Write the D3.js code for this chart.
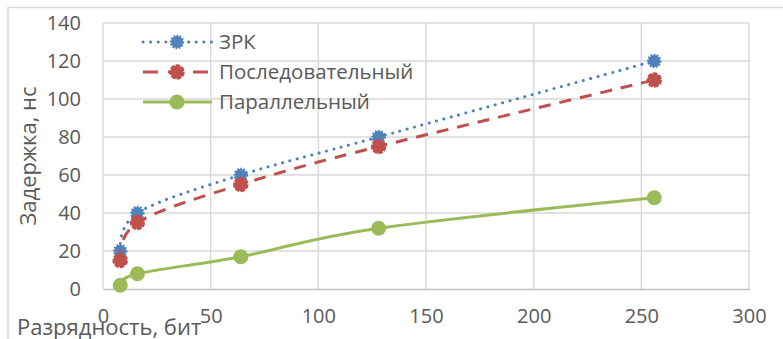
<!DOCTYPE html>
<html>
<head>
<meta charset="utf-8">
<script src="https://cdn.jsdelivr.net/npm/d3@7"></script>
<style>
  html, body { margin: 0; padding: 0; background: #fff; }
  svg { display: block; font-family: "Open Sans", sans-serif; }
</style>
</head>
<body>
<svg id="chart" width="783" height="339"></svg>
<script>
// Bit width (x) and delay values in ns for each design
const bits = [8, 16, 64, 128, 256];
const zrk = [20, 40, 60, 80, 120];
const sequential = [15, 35, 55, 75, 110];
const parallel = [2, 8, 17, 32, 48];

const xTicks = [0, 50, 100, 150, 200, 250, 300];
const yTicks = [0, 20, 40, 60, 80, 100, 120, 140];

const seriesNames = ["ЗРК", "Последовательный", "Параллельный"];
const seriesValues = [zrk, sequential, parallel];

const styles = [
  { color: "#4f81bd", dash: "0.1,7.5", cap: "round", mStroke: "1.6,1.4", r: 6 },
  { color: "#c0504d", dash: "12,9", cap: "butt", mStroke: "4.5,1.2", r: 6.5 },
  { color: "#9bbb59", dash: null, cap: "butt", mStroke: null, r: 7.5 }
];

const svg = d3.select("#chart");
const textColor = "#595959";
const gridColor = "#d9d9d9";

// Outer chart frame
svg.append("rect")
  .attr("x", 8).attr("y", 7.5)
  .attr("width", 800).attr("height", 400)
  .attr("fill", "none").attr("stroke", gridColor).attr("stroke-width", 1.5);

const plot = { left: 103, right: 749, top: 23, bottom: 289 };

const x = d3.scaleLinear().domain([0, 300]).range([plot.left, plot.right]);
const y = d3.scaleLinear().domain([0, 140]).range([plot.bottom, plot.top]);

// Gridlines
const grid = svg.append("g");
grid.selectAll("line.h").data(yTicks.slice(1)).join("line")
  .attr("x1", plot.left).attr("x2", plot.right)
  .attr("y1", d => y(d)).attr("y2", d => y(d))
  .attr("stroke", gridColor).attr("stroke-width", 1.5);
grid.selectAll("line.v").data(xTicks.slice(1)).join("line")
  .attr("x1", d => x(d)).attr("x2", d => x(d))
  .attr("y1", plot.top).attr("y2", plot.bottom)
  .attr("stroke", gridColor).attr("stroke-width", 1.5);
grid.append("line")
  .attr("x1", plot.left).attr("x2", plot.left)
  .attr("y1", plot.top).attr("y2", plot.bottom)
  .attr("stroke", gridColor).attr("stroke-width", 1.5);

// Axes
const xAxis = svg.append("g")
  .attr("transform", `translate(0,${plot.bottom})`)
  .call(d3.axisBottom(x).tickValues(xTicks).tickSize(0).tickPadding(20));
xAxis.select(".domain").attr("stroke", "#bfbfbf").attr("stroke-width", 1.5);
xAxis.selectAll("text").attr("fill", textColor).attr("font-size", 20)
  .attr("font-family", "Open Sans, sans-serif");

const yAxis = svg.append("g")
  .attr("transform", `translate(${plot.left},0)`)
  .call(d3.axisLeft(y).tickValues(yTicks).tickSize(0).tickPadding(22));
yAxis.select(".domain").remove();
yAxis.selectAll("text").attr("fill", textColor).attr("font-size", 20)
  .attr("font-family", "Open Sans, sans-serif");

// Axis titles
svg.append("text")
  .attr("x", 17).attr("y", 335)
  .attr("fill", textColor).attr("font-size", 22)
  .text("Разрядность, бит");

svg.append("text")
  .attr("transform", "translate(36,156) rotate(-90)")
  .attr("text-anchor", "middle")
  .attr("fill", textColor).attr("font-size", 22)
  .text("Задержка, нс");

// Series lines and markers
const line = d3.line()
  .x((d, i) => x(bits[i]))
  .y(d => y(d))
  .curve(d3.curveCatmullRom.alpha(0));

seriesValues.forEach((vals, k) => {
  const s = styles[k];
  const g = svg.append("g");
  g.append("path")
    .attr("d", line(vals))
    .attr("fill", "none")
    .attr("stroke", s.color)
    .attr("stroke-width", 3)
    .attr("stroke-linecap", s.cap)
    .attr("stroke-dasharray", s.dash);
  g.selectAll("circle").data(vals).join("circle")
    .attr("cx", (d, i) => x(bits[i]))
    .attr("cy", d => y(d))
    .attr("r", s.r)
    .attr("fill", s.color)
    .attr("stroke", s.color)
    .attr("stroke-width", s.mStroke ? 2.5 : 0)
    .attr("stroke-dasharray", s.mStroke);
});

// Legend
const legendRows = [42, 72, 102];
seriesNames.forEach((name, k) => {
  const s = styles[k];
  const g = svg.append("g").attr("transform", `translate(0,${legendRows[k]})`);
  g.append("line")
    .attr("x1", 143).attr("x2", 212).attr("y1", 0).attr("y2", 0)
    .attr("stroke", s.color).attr("stroke-width", 3)
    .attr("stroke-linecap", s.cap)
    .attr("stroke-dasharray", k === 1 ? "15,10" : s.dash);
  g.append("circle")
    .attr("cx", 177).attr("cy", 0).attr("r", s.r)
    .attr("fill", s.color).attr("stroke", s.color)
    .attr("stroke-width", s.mStroke ? 2.5 : 0)
    .attr("stroke-dasharray", s.mStroke);
  g.append("text")
    .attr("x", 219).attr("y", 0).attr("dy", "0.35em")
    .attr("fill", textColor).attr("font-size", 20.5)
    .text(name);
});
</script>
</body>
</html>
